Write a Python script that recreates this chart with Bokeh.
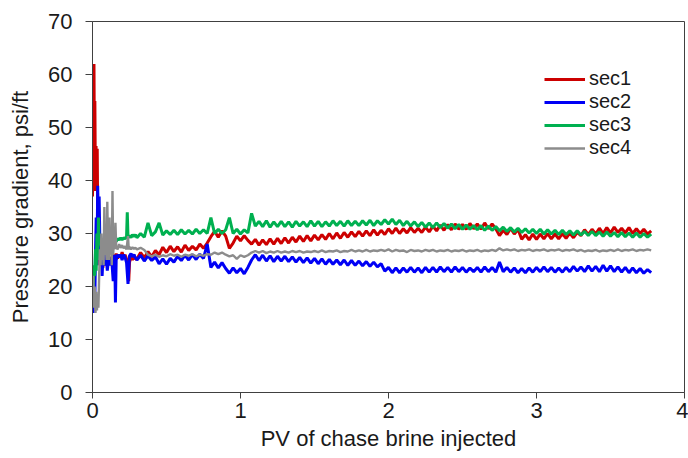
import numpy as np
from bokeh.plotting import figure
from bokeh.models import Range1d, FixedTicker, Legend, LegendItem
from bokeh.embed import file_html
from bokeh.resources import INLINE

# ---------------- data ----------------
series_names = ["sec1", "sec2", "sec3", "sec4"]
x_ticks = [0, 1, 2, 3, 4]
y_ticks = [0, 10, 20, 30, 40, 50, 60, 70]

# early, fast-changing part (PV, value pairs)
sec1_early_pv = [0.000, 0.005, 0.010, 0.013, 0.016, 0.020, 0.024, 0.028, 0.032, 0.036, 0.040, 0.045,
                 0.05, 0.06, 0.07, 0.08, 0.09, 0.10, 0.11, 0.12, 0.13, 0.14, 0.15, 0.16, 0.17, 0.18,
                 0.19, 0.20, 0.21, 0.22, 0.23, 0.24, 0.245, 0.25, 0.26, 0.27, 0.28, 0.29]
sec1_early = [37, 48, 62, 45, 55, 38, 46.5, 40, 46, 30, 27, 24,
              26.5, 25, 23.5, 26, 25, 24, 25.5, 24.2, 25.5, 26, 25, 26.2, 25.3, 26,
              25.5, 26.5, 25.5, 26, 25.2, 24, 21, 24.5, 25.8, 25, 26, 25.2]

sec2_early_pv = [0.000, 0.005, 0.010, 0.015, 0.020, 0.025, 0.030, 0.035, 0.040, 0.045, 0.050, 0.055,
                 0.060, 0.065, 0.07, 0.08, 0.09, 0.10, 0.11, 0.12, 0.13, 0.14, 0.15, 0.155, 0.16,
                 0.17, 0.18, 0.19, 0.20, 0.21, 0.22, 0.23, 0.24, 0.25, 0.26, 0.27, 0.28, 0.29]
sec2_early = [17, 15, 20, 16, 26, 33, 24, 39, 30, 37, 28, 24,
              26, 22, 25, 24, 26.5, 23, 25.5, 24, 25, 21, 26, 17, 25,
              26, 25.5, 26, 25, 26, 25.5, 24.5, 20.5, 25.8, 26.2, 25.6, 26, 25.4]

sec3_early_pv = [0.000, 0.005, 0.010, 0.015, 0.020, 0.025, 0.030, 0.035, 0.040, 0.045, 0.050,
                 0.06, 0.07, 0.08, 0.09, 0.10, 0.11, 0.12, 0.13, 0.14, 0.15, 0.16, 0.17, 0.18,
                 0.19, 0.20, 0.21, 0.22, 0.23, 0.235, 0.24, 0.25, 0.26, 0.27, 0.28, 0.29]
sec3_early = [22, 20, 24, 22, 27, 23, 30, 25, 33, 28, 29,
              27.5, 29, 28, 28.5, 28, 28.8, 28.2, 28.6, 28.3, 29, 28.5, 29, 28.8,
              29.2, 28.8, 29.2, 29, 29.3, 34, 29.2, 29.6, 29.2, 29.8, 29.4, 29.8]

sec4_early_pv = [0.000, 0.005, 0.010, 0.015, 0.020, 0.025, 0.030, 0.035, 0.040, 0.045, 0.050,
                 0.055, 0.060, 0.065, 0.070, 0.075, 0.080, 0.085, 0.090, 0.095, 0.100, 0.105,
                 0.110, 0.115, 0.120, 0.125, 0.130, 0.135, 0.140, 0.145, 0.150, 0.155, 0.160,
                 0.17, 0.18, 0.19, 0.20, 0.21, 0.22, 0.23, 0.24, 0.245, 0.25, 0.26, 0.27, 0.28, 0.29]
sec4_early = [18, 22, 16, 20, 15, 19, 15.5, 18, 16, 22, 27,
              24, 30, 25, 27, 24, 35, 26, 28, 25, 36, 27,
              25, 33, 26, 29, 24, 38, 26, 30, 27, 32, 27.5,
              27, 28, 27.3, 27.8, 27.2, 27.6, 27, 29.5, 27, 27.5, 27, 27.4, 27.1, 27.3]

# later part: one reading every 0.025 PV starting at 0.300 PV
late_start_pv = 0.300
late_step_pv = 0.025

sec1_late = [
    25.2, 26.4, 25.4, 26.6, 25.6, 26.8, 26.0, 27.4, 26.4, 27.6, 26.6, 27.5, 26.5, 27.8, 26.8, 27.6, 26.9, 28.0, 27.2, 28.2,
    29.4, 30.4, 29.3, 30.5, 29.5, 27.2, 28.2, 29.5, 28.6, 29.6, 28.7, 28.0, 28.9, 27.8, 28.8, 27.9, 29.0, 28.0, 29.1, 28.1,
    29.2, 28.2, 29.3, 28.4, 29.5, 28.5, 29.6, 28.6, 29.7, 28.8, 29.8, 28.9, 30.0, 29.0, 30.1, 29.1, 30.2, 29.3, 30.3, 29.4,
    30.4, 29.5, 30.5, 29.6, 30.7, 29.7, 30.6, 29.8, 30.9, 30.0, 31.0, 30.0, 30.9, 30.1, 31.1, 30.2, 31.0, 30.2, 31.2, 30.3,
    31.4, 30.5, 31.6, 30.6, 31.7, 30.7, 31.8, 30.8, 31.7, 30.8, 31.9, 30.9, 31.8, 30.8, 32.0, 30.9, 31.8, 30.9, 29.6, 30.6,
    29.8, 31.0, 29.9, 30.8, 28.9, 29.8, 28.8, 29.9, 28.9, 29.9, 29.0, 30.0, 29.0, 29.9, 29.0, 30.0, 29.1, 30.1, 29.2, 30.2,
    29.6, 30.7, 29.8, 30.8, 29.9, 31.0, 30.0, 31.1, 30.1, 31.2, 30.2, 31.0, 30.1, 31.1, 30.0, 30.9, 30.0, 30.8, 29.9, 30.5,
]
sec2_late = [
    25.0, 25.9, 24.8, 25.8, 24.9, 25.6, 24.3, 25.2, 24.2, 25.3, 24.6, 25.7, 24.9, 25.9, 25.0, 26.0, 25.1, 26.1, 25.3, 28.0,
    23.6, 24.6, 23.5, 24.5, 23.4, 22.5, 23.5, 22.6, 23.4, 22.4, 23.6, 25.0, 26.0, 24.9, 25.9, 24.8, 25.8, 24.7, 25.7, 24.8,
    25.7, 24.7, 25.6, 24.6, 25.5, 24.5, 25.4, 24.4, 25.3, 24.3, 25.2, 24.2, 25.1, 24.2, 25.0, 24.1, 25.0, 24.0, 24.9, 24.0,
    24.8, 23.9, 24.7, 23.8, 24.6, 23.7, 24.3, 22.9, 23.6, 22.6, 23.5, 22.6, 23.5, 22.7, 23.6, 22.7, 23.5, 22.6, 23.6, 22.7,
    23.6, 22.7, 23.7, 22.8, 23.6, 22.7, 23.7, 22.8, 23.6, 22.7, 23.5, 22.8, 23.6, 22.7, 23.7, 22.8, 23.6, 22.7, 24.6, 22.8,
    23.6, 22.7, 23.5, 22.6, 23.4, 22.6, 23.5, 22.7, 23.6, 22.8, 23.7, 22.8, 23.6, 22.7, 23.5, 22.7, 23.6, 22.8, 23.8, 22.9,
    23.7, 22.8, 23.9, 22.9, 23.8, 22.8, 24.0, 22.9, 23.9, 22.8, 23.7, 22.7, 23.6, 22.6, 23.5, 22.6, 23.4, 22.5, 23.2, 22.6,
]
sec3_late = [
    29.2, 30.0, 29.3, 32.0, 29.6, 30.3, 32.0, 29.7, 30.5, 29.8, 30.6, 29.8, 30.7, 29.9, 30.6, 29.9, 30.8, 30.0, 30.7, 30.0,
    33.0, 30.0, 30.8, 30.0, 30.7, 33.0, 30.0, 30.8, 29.9, 30.7, 30.1, 33.8, 31.4, 32.3, 31.3, 32.4, 31.2, 32.2, 31.3, 32.3,
    31.3, 32.2, 31.2, 32.3, 31.4, 32.2, 31.3, 32.4, 31.4, 32.3, 31.3, 32.2, 31.4, 32.4, 31.5, 32.3, 31.4, 32.4, 31.5, 32.3,
    31.5, 32.4, 31.6, 32.5, 31.5, 32.4, 31.7, 32.6, 31.8, 32.7, 31.7, 32.5, 31.5, 32.3, 31.4, 32.2, 31.3, 32.1, 31.2, 32.0,
    31.1, 32.0, 31.1, 31.9, 31.0, 31.8, 30.9, 31.7, 30.8, 31.6, 30.8, 31.5, 30.7, 31.5, 30.6, 31.4, 30.6, 31.3, 30.5, 31.2,
    30.4, 31.1, 30.3, 31.0, 30.2, 30.9, 30.1, 30.8, 30.0, 30.8, 29.9, 30.7, 29.9, 30.6, 29.8, 30.6, 29.8, 30.5, 29.7, 30.5,
    29.7, 30.4, 29.6, 30.4, 29.6, 30.3, 29.5, 30.3, 29.5, 30.2, 29.4, 30.2, 29.4, 30.1, 29.3, 30.1, 29.3, 30.0, 29.3, 29.9,
]
sec4_late = [
    27.0, 27.3, 26.9, 26.0, 25.7, 26.0, 25.6, 25.9, 25.7, 26.1, 25.8, 26.0, 25.6, 26.0, 25.8, 26.1, 25.7, 26.0, 25.8, 26.1,
    26.0, 26.4, 26.1, 26.4, 26.0, 25.7, 25.9, 25.2, 25.9, 25.6, 25.9, 26.4, 26.7, 26.4, 26.7, 26.3, 26.6, 26.4, 26.7, 26.4,
    26.6, 26.4, 26.7, 26.5, 26.7, 26.4, 26.6, 26.5, 26.7, 26.5, 26.8, 26.5, 26.7, 26.6, 26.8, 26.5, 26.7, 26.6, 26.9, 26.6,
    26.8, 26.6, 26.9, 26.6, 26.8, 26.7, 26.9, 26.7, 27.0, 26.6, 26.9, 26.7, 26.8, 26.5, 26.9, 26.7, 26.8, 26.6, 26.9, 26.7,
    26.9, 26.6, 26.8, 26.7, 26.9, 26.6, 26.8, 26.7, 26.9, 26.6, 26.8, 26.7, 26.9, 26.6, 26.8, 26.7, 26.9, 26.7, 27.2, 26.8,
    27.0, 26.8, 27.0, 26.7, 26.9, 26.8, 27.0, 26.7, 26.9, 26.8, 27.0, 26.7, 26.9, 26.8, 27.0, 26.7, 26.9, 26.8, 27.0, 26.7,
    26.9, 26.6, 26.8, 26.7, 26.9, 26.6, 26.8, 26.7, 26.9, 26.7, 27.0, 26.7, 26.9, 26.8, 27.0, 26.7, 26.9, 26.8, 27.0, 26.8,
]

colors = ["#CC0000", "#0000F5", "#00B050", "#8C8C8C"]

x_title = "PV of chase brine injected"
y_title = "Pressure gradient, psi/ft"

# ---------------- figure ----------------
FONT = "Liberation Sans"

p = figure(width=688, height=458, output_backend="svg", toolbar_location=None,
           x_range=Range1d(0, 4), y_range=Range1d(0, 70),
           min_border_left=92, min_border_right=4, min_border_top=21, min_border_bottom=66)
p.background_fill_color = "white"
p.border_fill_color = "white"
p.outline_line_color = "#404040"
p.outline_line_width = 1
p.xgrid.visible = False
p.ygrid.visible = False

late_pv = np.round(late_start_pv + late_step_pv * np.arange(len(sec1_late)), 4).tolist()

early_pvs = [sec1_early_pv, sec2_early_pv, sec3_early_pv, sec4_early_pv]
early_vals = [sec1_early, sec2_early, sec3_early, sec4_early]
late_vals = [sec1_late, sec2_late, sec3_late, sec4_late]
widths = [3.0, 3.0, 3.0, 2.4]

renderers = []
for name, col, lw, epv, ev, lv in zip(series_names, colors, widths, early_pvs, early_vals, late_vals):
    xs = list(epv) + late_pv[:len(lv)]
    ys = list(ev) + list(lv)
    r = p.line(xs, ys, line_color=col, line_width=lw)
    renderers.append(r)

# axes
for ax in (p.xaxis[0], p.yaxis[0]):
    ax.axis_line_color = "#404040"
    ax.major_tick_line_color = "#404040"
    ax.minor_tick_line_color = None
    ax.major_tick_in = 0
    ax.major_label_text_font = FONT
    ax.major_label_text_font_size = "22px"
    ax.major_label_text_color = "#1a1a1a"
    ax.axis_label_text_font = FONT
    ax.axis_label_text_font_size = "22px"
    ax.axis_label_text_font_style = "normal"
    ax.axis_label_text_color = "#1a1a1a"

p.xaxis.ticker = FixedTicker(ticks=x_ticks)
p.yaxis.ticker = FixedTicker(ticks=y_ticks)
p.xaxis.axis_label = x_title
p.yaxis.axis_label = y_title
p.xaxis.major_tick_out = 6
p.xaxis.major_label_standoff = 4
p.xaxis.axis_label_standoff = 5
p.yaxis.major_tick_out = 7
p.yaxis.major_label_standoff = 13
p.yaxis.axis_label_standoff = 12

# legend: one small legend per entry, stacked with the reference's row spacing
legend_offsets = [302, 279, 256, 233]
for name, r, off in zip(series_names, renderers, legend_offsets):
    lg = Legend(items=[LegendItem(label=name, renderers=[r])], location=(452, off))
    lg.border_line_color = None
    lg.background_fill_alpha = 0
    lg.padding = 0
    lg.margin = 0
    lg.spacing = 0
    lg.glyph_width = 41
    lg.glyph_height = 18
    lg.label_height = 18
    lg.label_standoff = 4
    lg.label_text_font = FONT
    lg.label_text_font_size = "20px"
    lg.label_text_color = "#1a1a1a"
    p.add_layout(lg, "center")

open("out.html", "w").write(file_html(p, INLINE))
